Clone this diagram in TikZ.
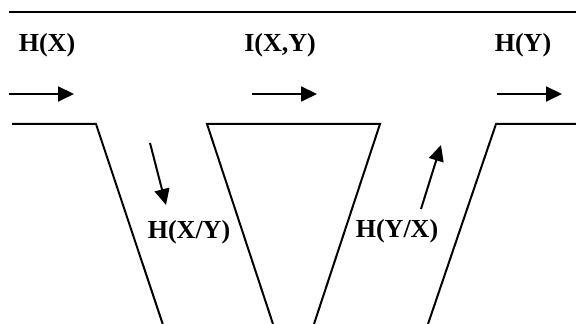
\documentclass[tikz,border=0pt]{standalone}
\usepackage{fontspec}
\setmainfont{Liberation Serif}
\usepackage{tikz}
\usetikzlibrary{arrows.meta}
\tikzset{
  wall/.style={draw=black,line width=1pt,line join=miter},
  flowarrow/.style={-{Triangle[length=8pt,width=7.5pt]},line width=1pt},
  quantity/.style={font=\fontsize{13}{15}\selectfont\bfseries,inner sep=0pt}
}

\begin{document}
\begin{tikzpicture}[x=0.5pt,y=0.5pt]
  \useasboundingbox (0,0) rectangle (576,324);
  % channel walls
  \draw[wall] (9,312) -- (576,312);
  \draw[wall] (12,200) -- (96,200) -- (162.7,0);
  \draw[wall] (273,0) -- (207,200) -- (380,200) -- (314,0);
  \draw[wall] (428,0) -- (496,200) -- (576,200);
  % quantities
  \node[quantity] (hx)  at (47,279)  {H(X)};
  \node[quantity] (ixy) at (280,279) {I(X,Y)};
  \node[quantity] (hy)  at (523,279) {H(Y)};
  \node[quantity] (hxy) at (189,92)  {H(X/Y)};
  \node[quantity] (hyx) at (397,93)  {H(Y/X)};
  % flow directions
  \coordinate (ina)   at (9,230);   \coordinate (outa)  at (74,230);
  \coordinate (inb)   at (252,230); \coordinate (outb)  at (317,230);
  \coordinate (inc)   at (497,230); \coordinate (outc)  at (562,230);
  \coordinate (lossa) at (150,181); \coordinate (lossb) at (166,119);
  \coordinate (noisea) at (421,115); \coordinate (noiseb) at (441,179);
  \draw[flowarrow] (ina) -- (outa);
  \draw[flowarrow] (inb) -- (outb);
  \draw[flowarrow] (inc) -- (outc);
  \draw[flowarrow] (lossa) -- (lossb);
  \draw[flowarrow] (noisea) -- (noiseb);
\end{tikzpicture}
\end{document}
